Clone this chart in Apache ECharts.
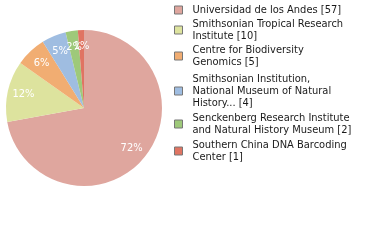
<!DOCTYPE html>
<html><head><meta charset="utf-8">
<script src="https://cdn.jsdelivr.net/npm/echarts@6/dist/echarts.min.js"></script>
<style>html,body{margin:0;padding:0;background:#fff}#c{width:380px;height:240px}</style>
</head><body><div id="c"></div>
<script>
const categories = ["Universidad de los Andes", "Smithsonian Tropical Research Institute", "Centre for Biodiversity Genomics", "Smithsonian Institution, National Museum of Natural History...", "Senckenberg Research Institute and Natural History Museum", "Southern China DNA Barcoding Center"];
const values = [57, 10, 5, 4, 2, 1];
const legendLabels = [
  "Universidad de los Andes [57]",
  "Smithsonian Tropical Research\nInstitute [10]",
  "Centre for Biodiversity\nGenomics [5]",
  "Smithsonian Institution,\nNational Museum of Natural\nHistory... [4]",
  "Senckenberg Research Institute\nand Natural History Museum [2]",
  "Southern China DNA Barcoding\nCenter [1]"
];
const colors = ["#dfa69e", "#dde39e", "#f1ad72", "#9fbde1", "#9ec97a", "#e07462"];
const legendTops = [4, 18, 44, 73, 112, 139];

const FONT = "'DejaVu Sans Condensed', 'DejaVu Sans', sans-serif";
const total = values.reduce((a, b) => a + b, 0);
const data = categories.map((n, i) => ({ name: n, value: values[i], itemStyle: { color: colors[i] } }));

const legends = categories.map((n, i) => ({
  data: [n], orient: 'vertical', left: 174, top: legendTops[i], padding: 0,
  icon: 'rect', itemWidth: 8, itemHeight: 8, itemGap: 0,
  itemStyle: { borderColor: '#777', borderWidth: 1 },
  selectedMode: false,
  formatter: () => legendLabels[i],
  textStyle: { fontFamily: FONT, fontSize: 11, color: '#1a1a1a', lineHeight: 12, padding: [0, 0, 0, 5] }
}));

const chart = echarts.init(document.getElementById('c'), null, { renderer: 'canvas' });
chart.setOption({
  animation: false,
  color: colors,
  legend: legends,
  series: [
    {
      type: 'pie', center: [84, 108], radius: [0, 78], startAngle: 90, clockwise: true,
      silent: true, data: data, label: { show: false }, labelLine: { show: false },
      itemStyle: { borderWidth: 0 }
    },
    {
      type: 'pie', center: [84, 108], radius: [40, 78], startAngle: 90, clockwise: true,
      silent: true, data: data.map(d => ({ name: d.name, value: d.value })),
      itemStyle: { color: 'rgba(0,0,0,0)', borderWidth: 0 },
      label: { show: true, position: 'inside', color: '#fff', fontFamily: FONT, fontSize: 11,
        formatter: p => Math.floor(p.value / total * 100) + '%' },
      labelLine: { show: false }, labelLayout: { hideOverlap: false }
    }
  ]
});
</script></body></html>
